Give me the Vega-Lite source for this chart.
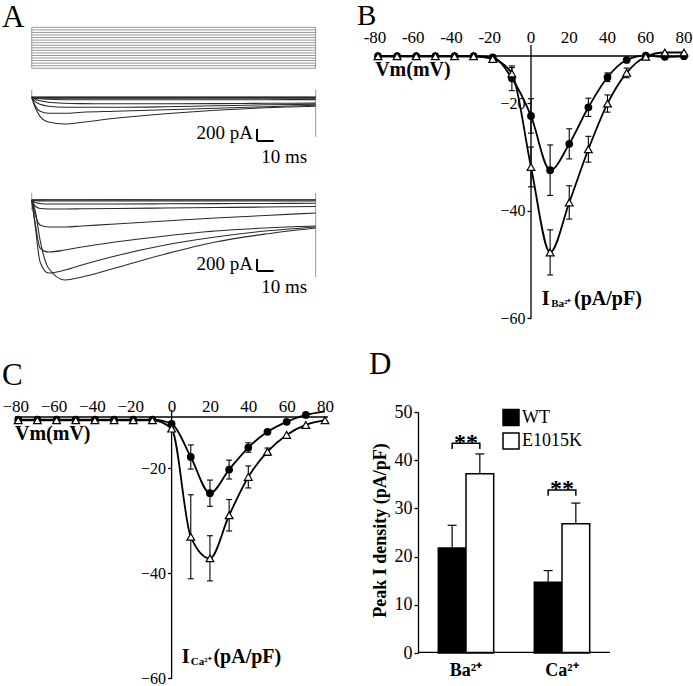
{
  "$schema": "https://vega.github.io/schema/vega-lite/v6.json",
  "padding": 0,
  "background": "white",
  "columns": 2,
  "align": "each",
  "bounds": "flush",
  "spacing": {"row": 94, "column": 0},
  "config": {
    "view": {"stroke": null},
    "font": "Liberation Serif",
    "axis": {"labelFont": "Liberation Serif", "titleFont": "Liberation Serif", "labelColor": "black", "titleColor": "black", "tickColor": "black", "domainColor": "black", "grid": false, "labelOverlap": false},
    "text": {"font": "Liberation Serif", "color": "black"},
    "legend": {"labelFont": "Liberation Serif", "labelColor": "black"}
  },
  "datasets": {
    "steps": [{"mV": -80}, {"mV": -70}, {"mV": -60}, {"mV": -50}, {"mV": -40}, {"mV": -30}, {"mV": -20}, {"mV": -10}, {"mV": 0}, {"mV": 10}, {"mV": 20}, {"mV": 30}, {"mV": 40}, {"mV": 50}, {"mV": 60}, {"mV": 70}, {"mV": 80}],
    "vticks": [{"v": -80}, {"v": -60}, {"v": -40}, {"v": -20}, {"v": 0}, {"v": 20}, {"v": 40}, {"v": 60}, {"v": 80}],
    "wt": [
      {"t": 0, "w1": 0, "w2": 0, "w3": 0, "w4": 0, "w5": 0, "w6": 0, "w7": 0, "w8": 0, "w9": 0},
      {"t": 2, "w1": -167, "w2": -133, "w3": -67, "w4": -33, "w5": -17, "w6": -8, "w7": -3, "w8": 0, "w9": 4},
      {"t": 5, "w1": -317, "w2": -233, "w3": -117, "w4": -58, "w5": -25, "w6": -12, "w7": -5, "w8": 1, "w9": 3},
      {"t": 10, "w1": -412, "w2": -267, "w3": -150, "w4": -83, "w5": -33, "w6": -15, "w7": -5, "w8": 0, "w9": 4},
      {"t": 20, "w1": -445, "w2": -267, "w3": -167, "w4": -100, "w5": -40, "w6": -17, "w7": -6, "w8": 0, "w9": 3},
      {"t": 30, "w1": -417, "w2": -250, "w3": -167, "w4": -105, "w5": -42, "w6": -17, "w7": -6, "w8": 1, "w9": 4},
      {"t": 50, "w1": -350, "w2": -233, "w3": -167, "w4": -108, "w5": -42, "w6": -17, "w7": -6, "w8": 0, "w9": 3},
      {"t": 80, "w1": -275, "w2": -208, "w3": -158, "w4": -108, "w5": -42, "w6": -17, "w7": -6, "w8": 0, "w9": 4},
      {"t": 110, "w1": -217, "w2": -183, "w3": -142, "w4": -105, "w5": -40, "w6": -17, "w7": -5, "w8": 1, "w9": 3},
      {"t": 140, "w1": -175, "w2": -158, "w3": -125, "w4": -100, "w5": -40, "w6": -17, "w7": -5, "w8": 0, "w9": 4},
      {"t": 170, "w1": -150, "w2": -133, "w3": -117, "w4": -97, "w5": -38, "w6": -17, "w7": -5, "w8": 0, "w9": 3}
    ],
    "e": [
      {"t": 0, "e1": 0, "e2": 0, "e3": 0, "e4": 0, "e5": 0, "e6": 0, "e7": 0, "e8": 0, "e9": 0},
      {"t": 2, "e1": -167, "e2": -417, "e3": -367, "e4": -233, "e5": -100, "e6": -42, "e7": -10, "e8": 0, "e9": 5},
      {"t": 5, "e1": -667, "e2": -1033, "e3": -800, "e4": -417, "e5": -142, "e6": -58, "e7": -15, "e8": 2, "e9": 4},
      {"t": 10, "e1": -1133, "e2": -1217, "e3": -867, "e4": -450, "e5": -150, "e6": -67, "e7": -17, "e8": 0, "e9": 5},
      {"t": 20, "e1": -1333, "e2": -1167, "e3": -833, "e4": -450, "e5": -150, "e6": -67, "e7": -17, "e8": 1, "e9": 4},
      {"t": 30, "e1": -1283, "e2": -1083, "e3": -783, "e4": -433, "e5": -147, "e6": -67, "e7": -17, "e8": 0, "e9": 5},
      {"t": 50, "e1": -1133, "e2": -933, "e3": -700, "e4": -400, "e5": -142, "e6": -67, "e7": -17, "e8": 2, "e9": 4},
      {"t": 80, "e1": -900, "e2": -750, "e3": -600, "e4": -350, "e5": -133, "e6": -63, "e7": -17, "e8": 0, "e9": 5},
      {"t": 110, "e1": -700, "e2": -617, "e3": -517, "e4": -300, "e5": -125, "e6": -60, "e7": -17, "e8": 1, "e9": 4},
      {"t": 140, "e1": -567, "e2": -517, "e3": -467, "e4": -258, "e5": -117, "e6": -58, "e7": -17, "e8": 0, "e9": 5},
      {"t": 170, "e1": -467, "e2": -450, "e3": -433, "e4": -217, "e5": -108, "e6": -55, "e7": -17, "e8": 0, "e9": 4}
    ],
    "b": [
      {"v": -80, "series": "WT", "i": -11.3}, {"v": -70, "series": "WT", "i": -11.3}, {"v": -60, "series": "WT", "i": -11.3},
      {"v": -50, "series": "WT", "i": -11.3}, {"v": -40, "series": "WT", "i": -11.3}, {"v": -30, "series": "WT", "i": -11.3},
      {"v": -20, "series": "WT", "i": -11.5},
      {"v": -10, "series": "WT", "i": -15.4, "lo": -17.7, "hi": -13.1},
      {"v": 0, "series": "WT", "i": -22.4, "lo": -25.6, "hi": -19.2},
      {"v": 10, "series": "WT", "i": -32.5, "lo": -37.2, "hi": -27.8},
      {"v": 20, "series": "WT", "i": -27.6, "lo": -30.4, "hi": -24.8},
      {"v": 30, "series": "WT", "i": -20.8, "lo": -22.5, "hi": -19.1},
      {"v": 40, "series": "WT", "i": -15.2, "lo": -16.0, "hi": -14.4},
      {"v": 50, "series": "WT", "i": -12.0}, {"v": 60, "series": "WT", "i": -11.2},
      {"v": 70, "series": "WT", "i": -11.4}, {"v": 80, "series": "WT", "i": -11.3},
      {"v": -80, "series": "E1015K", "i": -11.3}, {"v": -70, "series": "E1015K", "i": -11.3}, {"v": -60, "series": "E1015K", "i": -11.3},
      {"v": -50, "series": "E1015K", "i": -11.3}, {"v": -40, "series": "E1015K", "i": -11.3}, {"v": -30, "series": "E1015K", "i": -11.3},
      {"v": -20, "series": "E1015K", "i": -11.8},
      {"v": -10, "series": "E1015K", "i": -14.5, "lo": -15.6, "hi": -13.4},
      {"v": 0, "series": "E1015K", "i": -31.9, "lo": -35.6, "hi": -28.2},
      {"v": 10, "series": "E1015K", "i": -47.8, "lo": -52.0, "hi": -43.6},
      {"v": 20, "series": "E1015K", "i": -38.5, "lo": -41.6, "hi": -35.4},
      {"v": 30, "series": "E1015K", "i": -28.6, "lo": -31.0, "hi": -26.2},
      {"v": 40, "series": "E1015K", "i": -20.1, "lo": -21.7, "hi": -18.5},
      {"v": 50, "series": "E1015K", "i": -14.4, "lo": -15.3, "hi": -13.5},
      {"v": 60, "series": "E1015K", "i": -11.4}, {"v": 70, "series": "E1015K", "i": -10.6}, {"v": 80, "series": "E1015K", "i": -10.6}
    ],
    "c": [
      {"v": -80, "series": "WT", "i": -10.8}, {"v": -70, "series": "WT", "i": -10.8}, {"v": -60, "series": "WT", "i": -10.8},
      {"v": -50, "series": "WT", "i": -10.8}, {"v": -40, "series": "WT", "i": -10.8}, {"v": -30, "series": "WT", "i": -10.8},
      {"v": -20, "series": "WT", "i": -10.8}, {"v": -10, "series": "WT", "i": -10.8},
      {"v": 0, "series": "WT", "i": -11.6},
      {"v": 10, "series": "WT", "i": -17.9, "lo": -20.2, "hi": -15.6},
      {"v": 20, "series": "WT", "i": -24.8, "lo": -27.3, "hi": -22.3},
      {"v": 30, "series": "WT", "i": -20.3, "lo": -22.1, "hi": -18.5},
      {"v": 40, "series": "WT", "i": -16.1, "lo": -17.0, "hi": -15.2},
      {"v": 50, "series": "WT", "i": -13.1}, {"v": 60, "series": "WT", "i": -11.2},
      {"v": 70, "series": "WT", "i": -9.9}, {"v": 80, "series": "WT", "i": -9.2},
      {"v": -80, "series": "E1015K", "i": -10.9}, {"v": -70, "series": "E1015K", "i": -10.9}, {"v": -60, "series": "E1015K", "i": -10.9},
      {"v": -50, "series": "E1015K", "i": -10.9}, {"v": -40, "series": "E1015K", "i": -10.9}, {"v": -30, "series": "E1015K", "i": -10.9},
      {"v": -20, "series": "E1015K", "i": -10.9}, {"v": -10, "series": "E1015K", "i": -10.9},
      {"v": 0, "series": "E1015K", "i": -12.5},
      {"v": 10, "series": "E1015K", "i": -33.1, "lo": -41.1, "hi": -25.1},
      {"v": 20, "series": "E1015K", "i": -37.2, "lo": -41.5, "hi": -32.9},
      {"v": 30, "series": "E1015K", "i": -29.0, "lo": -32.0, "hi": -26.0},
      {"v": 40, "series": "E1015K", "i": -21.7, "lo": -23.8, "hi": -19.6},
      {"v": 50, "series": "E1015K", "i": -16.9, "lo": -17.6, "hi": -16.2},
      {"v": 60, "series": "E1015K", "i": -13.7}, {"v": 70, "series": "E1015K", "i": -11.8}, {"v": 80, "series": "E1015K", "i": -10.9}
    ],
    "d": [
      {"ion": "Ba²⁺", "series": "WT", "mean": 21.8, "hi": 26.5},
      {"ion": "Ba²⁺", "series": "E1015K", "mean": 37.2, "hi": 41.3},
      {"ion": "Ca²⁺", "series": "WT", "mean": 14.7, "hi": 17.1},
      {"ion": "Ca²⁺", "series": "E1015K", "mean": 26.8, "hi": 31.1}
    ],
    "ions": [{"ion": "Ba²⁺"}, {"ion": "Ca²⁺"}],
    "brk": [
      {"ion": "Ba²⁺", "series": "WT", "y": 42.3, "k": 0},
      {"ion": "Ba²⁺", "series": "WT", "y": 43.5, "k": 1},
      {"ion": "Ba²⁺", "series": "E1015K", "y": 43.5, "k": 2},
      {"ion": "Ba²⁺", "series": "E1015K", "y": 42.3, "k": 3},
      {"ion": "Ca²⁺", "series": "WT", "y": 32.6, "k": 0},
      {"ion": "Ca²⁺", "series": "WT", "y": 33.8, "k": 1},
      {"ion": "Ca²⁺", "series": "E1015K", "y": 33.8, "k": 2},
      {"ion": "Ca²⁺", "series": "E1015K", "y": 32.6, "k": 3}
    ],
    "stars": [
      {"ion": "Ba²⁺", "y": 42.2, "label": "**"},
      {"ion": "Ca²⁺", "y": 32.5, "label": "**"}
    ]
  },
  "concat": [
    {
      "width": 378, "height": 318,
      "resolve": {"scale": {"y": "independent"}},
      "layer": [
        {
          "layer": [
            {
              "data": {"name": "steps"},
              "mark": {"type": "rule", "color": "#8c8c8c", "strokeWidth": 0.9},
              "encoding": {
                "x": {"datum": 0, "type": "quantitative", "scale": {"domain": [-19, 207.35], "nice": false, "zero": false}, "axis": null},
                "x2": {"datum": 170},
                "y": {"field": "mV", "type": "quantitative", "scale": {"domain": [-1054.8, 186.6], "nice": false, "zero": false}, "axis": null}
              }
            },
            {
              "data": {"values": [{"t": 0}, {"t": 170}]},
              "mark": {"type": "rule", "color": "#8c8c8c", "strokeWidth": 0.9},
              "encoding": {
                "x": {"field": "t", "type": "quantitative", "axis": null},
                "y": {"datum": -80, "axis": null},
                "y2": {"datum": 80}
              }
            },
            {
              "data": {"values": [{}]},
              "mark": {"type": "text", "text": "A", "fontSize": 31, "align": "left", "baseline": "alphabetic"},
              "encoding": {"x": {"datum": -17.8, "axis": null}, "y": {"datum": 83.1, "axis": null}}
            },
            {
              "data": {"values": [{}]},
              "mark": {"type": "text", "text": "B", "fontSize": 29, "align": "left", "baseline": "alphabetic"},
              "encoding": {"x": {"datum": 194.8, "axis": null}, "y": {"datum": 90.9, "axis": null}}
            }
          ]
        },
        {
          "layer": [
            {
              "data": {"values": [{"t": 0, "a": 122, "b": 0}, {"t": 170, "a": 122, "b": -660}]},
              "mark": {"type": "rule", "color": "#9a9a9a", "strokeWidth": 1},
              "encoding": {
                "x": {"field": "t", "type": "quantitative", "axis": null},
                "y": {"field": "a", "type": "quantitative", "scale": {"domain": [-3678.3, 1621.7], "nice": false, "zero": false}, "axis": null},
                "y2": {"field": "b"}
              }
            },
            {
              "data": {"name": "wt"},
              "transform": [{"fold": ["w1", "w2", "w3", "w4", "w5", "w6", "w7", "w8", "w9"], "as": ["trace", "pA"]}],
              "mark": {"type": "line", "color": "#2a2a2a", "strokeWidth": 1.1, "interpolate": "monotone"},
              "encoding": {
                "x": {"field": "t", "type": "quantitative", "axis": null},
                "y": {"field": "pA", "type": "quantitative", "axis": null},
                "detail": {"field": "trace"}
              }
            },
            {
              "data": {"values": [{}]},
              "mark": {"type": "rule", "color": "black", "strokeWidth": 2},
              "encoding": {"x": {"datum": 134.9, "axis": null}, "y": {"datum": -728, "axis": null}, "y2": {"datum": -528}}
            },
            {
              "data": {"values": [{}]},
              "mark": {"type": "rule", "color": "black", "strokeWidth": 2},
              "encoding": {"x": {"datum": 134.9, "axis": null}, "x2": {"datum": 144.9}, "y": {"datum": -728, "axis": null}}
            },
            {
              "data": {"values": [{}]},
              "mark": {"type": "text", "text": "200 pA", "fontSize": 19, "align": "right", "baseline": "alphabetic"},
              "encoding": {"x": {"datum": 132.5, "axis": null}, "y": {"datum": -695, "axis": null}}
            },
            {
              "data": {"values": [{}]},
              "mark": {"type": "text", "text": "10 ms", "fontSize": 19, "align": "right", "baseline": "alphabetic"},
              "encoding": {"x": {"datum": 164.9, "axis": null}, "y": {"datum": -1095, "axis": null}}
            }
          ]
        },
        {
          "layer": [
            {
              "data": {"values": [{"t": 0, "a": 117, "b": -167}, {"t": 170, "a": 117, "b": -1283}]},
              "mark": {"type": "rule", "color": "#9a9a9a", "strokeWidth": 1},
              "encoding": {
                "x": {"field": "t", "type": "quantitative", "axis": null},
                "y": {"field": "a", "type": "quantitative", "scale": {"domain": [-1966.7, 3333.3], "nice": false, "zero": false}, "axis": null},
                "y2": {"field": "b"}
              }
            },
            {
              "data": {"name": "e"},
              "transform": [{"fold": ["e1", "e2", "e3", "e4", "e5", "e6", "e7", "e8", "e9"], "as": ["trace", "pA"]}],
              "mark": {"type": "line", "color": "#2a2a2a", "strokeWidth": 1.1, "interpolate": "monotone"},
              "encoding": {
                "x": {"field": "t", "type": "quantitative", "axis": null},
                "y": {"field": "pA", "type": "quantitative", "axis": null},
                "detail": {"field": "trace"}
              }
            },
            {
              "data": {"values": [{}]},
              "mark": {"type": "rule", "color": "black", "strokeWidth": 2},
              "encoding": {"x": {"datum": 134.9, "axis": null}, "y": {"datum": -1183, "axis": null}, "y2": {"datum": -983}}
            },
            {
              "data": {"values": [{}]},
              "mark": {"type": "rule", "color": "black", "strokeWidth": 2},
              "encoding": {"x": {"datum": 134.9, "axis": null}, "x2": {"datum": 144.9}, "y": {"datum": -1183, "axis": null}}
            },
            {
              "data": {"values": [{}]},
              "mark": {"type": "text", "text": "200 pA", "fontSize": 19, "align": "right", "baseline": "alphabetic"},
              "encoding": {"x": {"datum": 132.5, "axis": null}, "y": {"datum": -1167, "axis": null}}
            },
            {
              "data": {"values": [{}]},
              "mark": {"type": "text", "text": "10 ms", "fontSize": 19, "align": "right", "baseline": "alphabetic"},
              "encoding": {"x": {"datum": 164.9, "axis": null}, "y": {"datum": -1550, "axis": null}}
            }
          ]
        }
      ]
    },
    {
      "width": 306, "height": 318,
      "layer": [
        {
          "data": {"name": "b"},
          "mark": {"type": "line", "color": "black", "strokeWidth": 1.8, "interpolate": "monotone"},
          "encoding": {
            "x": {"field": "v", "type": "quantitative", "scale": {"domain": [-80, 80], "nice": false, "zero": false}, "axis": null},
            "y": {"field": "i", "type": "quantitative", "scale": {"domain": [-60, -0.837], "nice": false, "zero": false},
                  "axis": {"orient": "left", "offset": -153, "values": [-20, -40, -60], "domain": false, "ticks": true, "tickSize": 4, "tickWidth": 1.3, "labelPadding": 2, "labelFontSize": 16, "title": null}},
            "detail": {"field": "series"}
          }
        },
        {
          "data": {"name": "vticks"},
          "transform": [{"filter": "datum.v < 0"}],
          "mark": {"type": "text", "fontSize": 17, "align": "center", "baseline": "alphabetic", "dx": -3},
          "encoding": {"x": {"field": "v", "type": "quantitative", "title": null}, "y": {"datum": -8.837}, "text": {"field": "v"}}
        },
        {
          "data": {"name": "vticks"},
          "transform": [{"filter": "datum.v >= 0"}],
          "mark": {"type": "text", "fontSize": 17, "align": "center", "baseline": "alphabetic"},
          "encoding": {"x": {"field": "v", "type": "quantitative", "title": null}, "y": {"datum": -8.837}, "text": {"field": "v"}}
        },
        {
          "data": {"values": [{}]},
          "mark": {"type": "rule", "color": "black", "strokeWidth": 1.3},
          "encoding": {"x": {"datum": -81.5}, "x2": {"datum": 80.5}, "y": {"datum": -11.26}}
        },
        {
          "data": {"values": [{}]},
          "mark": {"type": "rule", "color": "black", "strokeWidth": 1.3},
          "encoding": {"x": {"datum": 0}, "y": {"datum": -9.2}, "y2": {"datum": -60}}
        },
        {
          "data": {"name": "b"},
          "transform": [{"filter": "isValid(datum.lo)"}],
          "mark": {"type": "rule", "color": "black", "strokeWidth": 1.1},
          "encoding": {"x": {"field": "v", "type": "quantitative", "title": null}, "y": {"field": "lo", "type": "quantitative", "title": null}, "y2": {"field": "hi"}}
        },
        {
          "data": {"name": "b"},
          "transform": [{"filter": "isValid(datum.lo)"}],
          "mark": {"type": "tick", "orient": "horizontal", "size": 6, "thickness": 1.1, "color": "black", "opacity": 1},
          "encoding": {"x": {"field": "v", "type": "quantitative", "title": null}, "y": {"field": "lo", "type": "quantitative", "title": null}}
        },
        {
          "data": {"name": "b"},
          "transform": [{"filter": "isValid(datum.hi)"}],
          "mark": {"type": "tick", "orient": "horizontal", "size": 6, "thickness": 1.1, "color": "black", "opacity": 1},
          "encoding": {"x": {"field": "v", "type": "quantitative", "title": null}, "y": {"field": "hi", "type": "quantitative", "title": null}}
        },
        {
          "data": {"name": "b"},
          "transform": [{"filter": "datum.series == 'WT'"}],
          "mark": {"type": "point", "shape": "circle", "filled": true, "color": "black", "size": 60, "opacity": 1},
          "encoding": {"x": {"field": "v", "type": "quantitative", "title": null}, "y": {"field": "i", "type": "quantitative", "title": null}}
        },
        {
          "data": {"name": "b"},
          "transform": [{"filter": "datum.series == 'E1015K'"}],
          "mark": {"type": "point", "shape": "triangle-up", "filled": true, "fill": "white", "stroke": "black", "strokeWidth": 1.2, "size": 60, "opacity": 1},
          "encoding": {"x": {"field": "v", "type": "quantitative", "title": null}, "y": {"field": "i", "type": "quantitative", "title": null}}
        },
        {
          "data": {"values": [{}]},
          "mark": {"type": "text", "text": "Vm(mV)", "fontSize": 20, "fontWeight": "bold", "align": "left", "baseline": "alphabetic"},
          "encoding": {"x": {"datum": -81.5}, "y": {"datum": -14.98}}
        },
        {
          "data": {"values": [{}]},
          "mark": {"type": "text", "text": "I", "fontSize": 20, "fontWeight": "bold", "align": "left", "baseline": "alphabetic"},
          "encoding": {"x": {"datum": 5.6}, "y": {"datum": -57.58}}
        },
        {
          "data": {"values": [{}]},
          "mark": {"type": "text", "text": "Ba²⁺", "fontSize": 11, "fontWeight": "bold", "align": "left", "baseline": "alphabetic"},
          "encoding": {"x": {"datum": 10.6}, "y": {"datum": -57.95}}
        },
        {
          "data": {"values": [{}]},
          "mark": {"type": "text", "text": "(pA/pF)", "fontSize": 20, "fontWeight": "bold", "align": "left", "baseline": "alphabetic"},
          "encoding": {"x": {"datum": 22.5}, "y": {"datum": -57.58}}
        }
      ]
    },
    {
      "width": 325, "height": 266,
      "layer": [
        {
          "data": {"name": "c"},
          "mark": {"type": "line", "color": "black", "strokeWidth": 1.8, "interpolate": "monotone"},
          "encoding": {
            "x": {"field": "v", "type": "quantitative", "scale": {"domain": [-89.5, 80], "nice": false, "zero": false},
                  "axis": {"orient": "top", "offset": -5, "values": [-80, -60, -40, -20, 0, 20, 40, 60, 80], "domain": false, "ticks": false, "tickSize": 0, "labelPadding": 2, "labelFontSize": 17, "title": null, "labelFlush": false, "labelOverlap": false,
                           "labelOffset": {"condition": {"test": "datum.value < 0", "value": -3}, "value": 0}}},
            "y": {"field": "i", "type": "quantitative", "scale": {"domain": [-60, -9.333], "nice": false, "zero": false},
                  "axis": {"orient": "left", "offset": -171.6, "values": [-20, -40, -60], "domain": false, "ticks": true, "tickSize": 4, "tickWidth": 1.3, "labelPadding": 2, "labelFontSize": 16, "title": null}},
            "detail": {"field": "series"}
          }
        },
        {
          "data": {"values": [{}]},
          "mark": {"type": "rule", "color": "black", "strokeWidth": 1.3},
          "encoding": {"x": {"datum": -81.7}, "x2": {"datum": 81.5}, "y": {"datum": -10.29}}
        },
        {
          "data": {"values": [{}]},
          "mark": {"type": "rule", "color": "black", "strokeWidth": 1.3},
          "encoding": {"x": {"datum": 0}, "y": {"datum": -8.9}, "y2": {"datum": -60}}
        },
        {
          "data": {"name": "c"},
          "transform": [{"filter": "isValid(datum.lo)"}],
          "mark": {"type": "rule", "color": "black", "strokeWidth": 1.1},
          "encoding": {"x": {"field": "v", "type": "quantitative", "title": null}, "y": {"field": "lo", "type": "quantitative", "title": null}, "y2": {"field": "hi"}}
        },
        {
          "data": {"name": "c"},
          "transform": [{"filter": "isValid(datum.lo)"}],
          "mark": {"type": "tick", "orient": "horizontal", "size": 6, "thickness": 1.1, "color": "black", "opacity": 1},
          "encoding": {"x": {"field": "v", "type": "quantitative", "title": null}, "y": {"field": "lo", "type": "quantitative", "title": null}}
        },
        {
          "data": {"name": "c"},
          "transform": [{"filter": "isValid(datum.hi)"}],
          "mark": {"type": "tick", "orient": "horizontal", "size": 6, "thickness": 1.1, "color": "black", "opacity": 1},
          "encoding": {"x": {"field": "v", "type": "quantitative", "title": null}, "y": {"field": "hi", "type": "quantitative", "title": null}}
        },
        {
          "data": {"name": "c"},
          "transform": [{"filter": "datum.series == 'WT' && datum.v < 80"}],
          "mark": {"type": "point", "shape": "circle", "filled": true, "color": "black", "size": 60, "opacity": 1},
          "encoding": {"x": {"field": "v", "type": "quantitative", "title": null}, "y": {"field": "i", "type": "quantitative", "title": null}}
        },
        {
          "data": {"name": "c"},
          "transform": [{"filter": "datum.series == 'E1015K'"}],
          "mark": {"type": "point", "shape": "triangle-up", "filled": true, "fill": "white", "stroke": "black", "strokeWidth": 1.2, "size": 60, "opacity": 1},
          "encoding": {"x": {"field": "v", "type": "quantitative", "title": null}, "y": {"field": "i", "type": "quantitative", "title": null}}
        },
        {
          "data": {"values": [{}]},
          "mark": {"type": "text", "text": "Vm(mV)", "fontSize": 20, "fontWeight": "bold", "align": "left", "baseline": "alphabetic"},
          "encoding": {"x": {"datum": -81.7}, "y": {"datum": -14.6}}
        },
        {
          "data": {"values": [{}]},
          "mark": {"type": "text", "text": "I", "fontSize": 20, "fontWeight": "bold", "align": "left", "baseline": "alphabetic"},
          "encoding": {"x": {"datum": 5.3}, "y": {"datum": -57.1}}
        },
        {
          "data": {"values": [{}]},
          "mark": {"type": "text", "text": "Ca²⁺", "fontSize": 11, "fontWeight": "bold", "align": "left", "baseline": "alphabetic"},
          "encoding": {"x": {"datum": 10.0}, "y": {"datum": -57.5}}
        },
        {
          "data": {"values": [{}]},
          "mark": {"type": "text", "text": "(pA/pF)", "fontSize": 20, "fontWeight": "bold", "align": "left", "baseline": "alphabetic"},
          "encoding": {"x": {"datum": 21.8}, "y": {"datum": -57.1}}
        },
        {
          "data": {"values": [{}]},
          "mark": {"type": "text", "text": "C", "fontSize": 31, "align": "left", "baseline": "alphabetic"},
          "encoding": {"x": {"datum": -88.5}, "y": {"datum": -4.19}}
        }
      ]
    },
    {
      "width": 232, "height": 241,
      "title": {"text": "D", "anchor": "start", "frame": "group", "orient": "top", "fontSize": 31, "fontWeight": "normal", "font": "Liberation Serif", "color": "black", "offset": 22, "dx": -9},
      "layer": [
        {
          "data": {"name": "d"},
          "mark": {"type": "bar", "stroke": "black", "strokeWidth": 1.5},
          "encoding": {
            "x": {"field": "ion", "type": "nominal", "sort": null, "scale": {"type": "band", "domain": ["Ba²⁺", "Ca²⁺"], "paddingInner": 0, "paddingOuter": 0.20833, "align": 1},
                  "axis": {"orient": "bottom", "domain": false, "ticks": false, "tickSize": 0, "labelAngle": 0, "labelFontSize": 18, "labelFontWeight": "bold", "labelPadding": 8, "title": null}},
            "xOffset": {"field": "series", "type": "nominal", "sort": null, "scale": {"domain": ["WT", "E1015K"], "paddingInner": 0, "paddingOuter": 0.733}},
            "y": {"field": "mean", "type": "quantitative", "title": "Peak I density (pA/pF)", "scale": {"domain": [0, 50], "nice": false, "zero": false},
                  "axis": {"offset": -40, "values": [0, 10, 20, 30, 40, 50], "tickSize": 4, "tickWidth": 1.3, "domainWidth": 1.3, "labelPadding": 2, "labelFontSize": 18, "title": "Peak I density (pA/pF)", "titleFontSize": 18, "titleFontWeight": "bold", "titleX": -38, "titleY": 118, "titleAngle": -90, "titleAlign": "center", "titleBaseline": "middle"}},
            "fill": {"field": "series", "type": "nominal", "sort": null, "scale": {"domain": ["WT", "E1015K"], "range": ["black", "white"]},
                     "legend": {"orient": "none", "legendX": 502, "legendY": 408.5, "title": null, "symbolType": "square", "symbolSize": 256, "symbolStrokeColor": "black", "symbolStrokeWidth": 1.5, "labelFontSize": 18, "labelOffset": 2, "rowPadding": 1.5, "padding": 0}}
          }
        },
        {
          "data": {"name": "ions"},
          "mark": {"type": "bar", "color": "black"},
          "encoding": {
            "x": {"field": "ion", "type": "nominal", "sort": null, "title": null},
            "y": {"datum": 0, "title": "Peak I density (pA/pF)"},
            "y2": {"datum": 0.27}
          }
        },
        {
          "data": {"name": "d"},
          "mark": {"type": "rule", "color": "black", "strokeWidth": 1.2},
          "encoding": {
            "x": {"field": "ion", "type": "nominal", "sort": null, "title": null},
            "xOffset": {"field": "series", "type": "nominal", "sort": null},
            "y": {"field": "mean", "type": "quantitative", "title": "Peak I density (pA/pF)"},
            "y2": {"field": "hi"}
          }
        },
        {
          "data": {"name": "d"},
          "mark": {"type": "tick", "orient": "horizontal", "size": 9, "thickness": 1.2, "color": "black", "opacity": 1},
          "encoding": {
            "x": {"field": "ion", "type": "nominal", "sort": null, "title": null},
            "xOffset": {"field": "series", "type": "nominal", "sort": null},
            "y": {"field": "hi", "type": "quantitative", "title": "Peak I density (pA/pF)"}
          }
        },
        {
          "data": {"name": "brk"},
          "mark": {"type": "line", "color": "black", "strokeWidth": 1.5},
          "encoding": {
            "x": {"field": "ion", "type": "nominal", "sort": null, "title": null},
            "xOffset": {"field": "series", "type": "nominal", "sort": null},
            "y": {"field": "y", "type": "quantitative", "title": "Peak I density (pA/pF)"},
            "order": {"field": "k"},
            "detail": {"field": "ion"}
          }
        },
        {
          "data": {"name": "stars"},
          "mark": {"type": "text", "fontSize": 24, "fontWeight": "bold", "align": "center", "baseline": "alphabetic"},
          "encoding": {
            "x": {"field": "ion", "type": "nominal", "sort": null, "title": null},
            "y": {"field": "y", "type": "quantitative", "title": "Peak I density (pA/pF)"},
            "text": {"field": "label"}
          }
        }
      ]
    }
  ]
}
